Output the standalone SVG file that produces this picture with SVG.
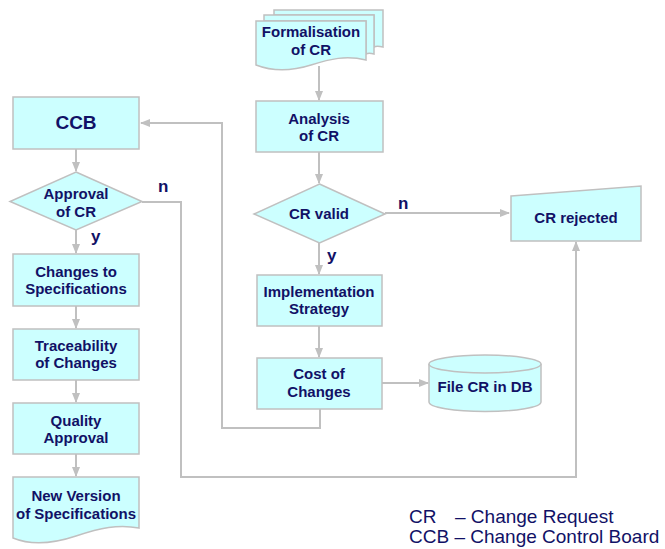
<svg xmlns="http://www.w3.org/2000/svg" width="665" height="549" viewBox="0 0 665 549">
<style>
.n{fill:#ccffff;stroke:#c0c0c0;stroke-width:1.5}
.t{font-family:"Liberation Sans",Arial,sans-serif;font-weight:bold;font-size:15px;fill:#111166;text-anchor:middle}
.l{font-family:"Liberation Sans",Arial,sans-serif;font-weight:bold;font-size:17px;fill:#111166}
.lg{font-family:"Liberation Sans",Arial,sans-serif;font-size:19px;fill:#111166}
.c{fill:none;stroke:#c0c0c0;stroke-width:2}
</style>
<defs>
<marker id="a" markerUnits="userSpaceOnUse" markerWidth="10" markerHeight="8" refX="9" refY="4" orient="auto">
<path d="M0,0 L10,4 L0,8 Z" fill="#c0c0c0"/>
</marker>
</defs>
<rect width="665" height="549" fill="#fff"/>
<g id="connectors">
<path class="c" d="M319,66 V100" marker-end="url(#a)"/>
<path class="c" d="M319,152 V183" marker-end="url(#a)"/>
<path class="c" d="M319,243 V274" marker-end="url(#a)"/>
<path class="c" d="M319,326 V357" marker-end="url(#a)"/>
<path class="c" d="M382,383 H428" marker-end="url(#a)"/>
<path class="c" d="M320,409 V428 H222 V123 H141" marker-end="url(#a)"/>
<path class="c" d="M385,213 H509" marker-end="url(#a)"/>
<path class="c" d="M76,149 V171" marker-end="url(#a)"/>
<path class="c" d="M76,230 V253" marker-end="url(#a)"/>
<path class="c" d="M76,306 V328" marker-end="url(#a)"/>
<path class="c" d="M76,380 V402" marker-end="url(#a)"/>
<path class="c" d="M76,454 V476" marker-end="url(#a)"/>
<path class="c" d="M142,202 H181 V477 H576 V242" marker-end="url(#a)"/>
</g>
<g id="formalisation">
<path class="n" d="M274,10 H383 V47 C378,46 376,46 374,47 V15 H274 Z"/>
<path class="n" d="M264,15 H374 V54 C370,53 368,53 366,54 V21 H264 Z"/>
<path class="n" d="M256,21 H366 V60 C346,55 330,59 311,65 C292,71 274,72 256,65 Z"/>
<text class="t" x="311" y="37">Formalisation</text>
<text class="t" x="311" y="55">of CR</text>
</g>
<g id="analysis">
<rect class="n" x="256" y="101" width="127" height="51"/>
<text class="t" x="319" y="124">Analysis</text>
<text class="t" x="319" y="141">of CR</text>
</g>
<g id="crvalid">
<path class="n" d="M319.5,184 L385,214 L319.5,243 L254,214 Z"/>
<text class="t" x="319" y="219">CR valid</text>
</g>
<g id="implementation">
<rect class="n" x="257" y="275" width="125" height="51"/>
<text class="t" x="319" y="297">Implementation</text>
<text class="t" x="319" y="314">Strategy</text>
</g>
<g id="cost">
<rect class="n" x="257" y="358" width="125" height="51"/>
<text class="t" x="319" y="379">Cost of</text>
<text class="t" x="319" y="397">Changes</text>
</g>
<g id="filedb">
<path class="n" d="M429,364 V402 A56,9.5 0 0 0 541,402 V364 A56,9 0 0 0 429,364 Z"/>
<path class="n" d="M429,364 A56,9 0 0 0 541,364" fill="none"/>
<text class="t" x="485" y="392">File CR in DB</text>
</g>
<g id="crrejected">
<path class="n" d="M511,196 L641,186 V241 H511 Z"/>
<text class="t" x="576" y="223">CR rejected</text>
</g>
<g id="ccb">
<rect class="n" x="13" y="97" width="126" height="52"/>
<text class="t" x="76" y="129" style="font-size:19px">CCB</text>
</g>
<g id="approval">
<path class="n" d="M76,172 L142,201.5 L76,230 L10,201.5 Z"/>
<text class="t" x="76" y="199">Approval</text>
<text class="t" x="76" y="217">of CR</text>
</g>
<g id="changes">
<rect class="n" x="13" y="254" width="126" height="52"/>
<text class="t" x="76" y="277">Changes to</text>
<text class="t" x="76" y="294">Specifications</text>
</g>
<g id="traceability">
<rect class="n" x="13" y="329" width="126" height="51"/>
<text class="t" x="76" y="351">Traceability</text>
<text class="t" x="76" y="368">of Changes</text>
</g>
<g id="quality">
<rect class="n" x="13" y="403" width="126" height="51"/>
<text class="t" x="76" y="426">Quality</text>
<text class="t" x="76" y="443">Approval</text>
</g>
<g id="newversion">
<path class="n" d="M13,477 H139 V528 C118,524 100,528 76,536 C52,544 30,545 13,538 Z"/>
<text class="t" x="76" y="501">New Version</text>
<text class="t" x="76" y="519">of Specifications</text>
</g>
<g id="labels">
<text class="l" x="398" y="209">n</text>
<text class="l" x="327" y="261">y</text>
<text class="l" x="158" y="192">n</text>
<text class="l" x="91" y="242">y</text>
</g>
<g id="legend">
<text class="lg" x="409" y="523">CR</text>
<text class="lg" x="455" y="523">– Change Request</text>
<text class="lg" x="409" y="543">CCB – Change Control Board</text>
</g>
</svg>
